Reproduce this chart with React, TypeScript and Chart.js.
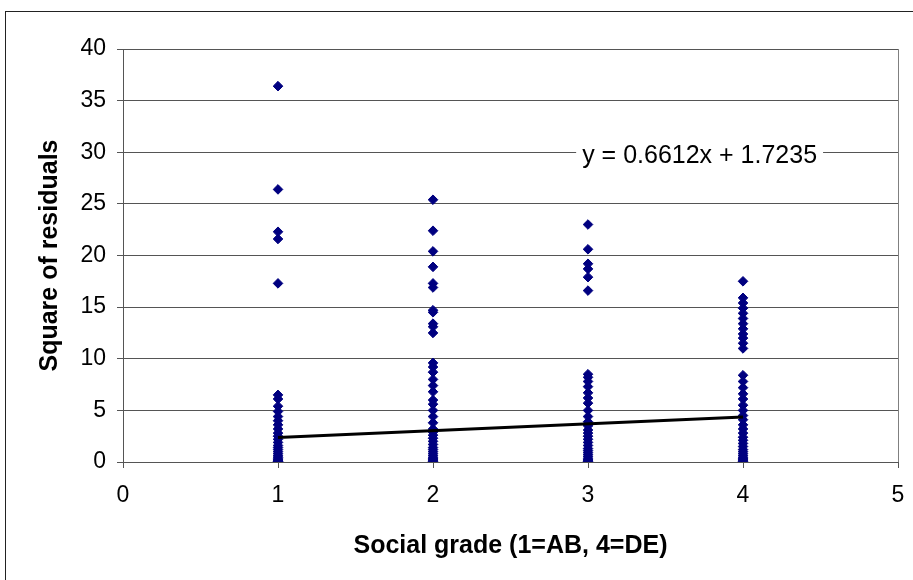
import React, { useEffect, useRef } from 'react';
import { Chart, registerables } from 'chart.js';

Chart.register(...registerables);

// Social grade categories (x) and squared residuals (y) per grade
const gradeCategories = [1, 2, 3, 4];
const grade1Values = [36.4, 26.4, 22.3, 21.6, 17.3, 6.5, 6.1, 5.4, 4.9, 4.4, 4.0, 3.6, 3.2, 2.8, 2.5, 2.2, 1.9, 1.6, 1.4, 1.2, 1.0, 0.8, 0.6, 0.45, 0.3, 0.2, 0.1, 0.05, 0.02];
const grade2Values = [25.4, 22.4, 20.4, 18.9, 17.3, 16.9, 14.7, 14.5, 13.4, 13.1, 12.5, 9.6, 9.2, 8.7, 8.0, 7.4, 6.8, 6.0, 5.6, 5.0, 4.4, 3.8, 3.2, 2.9, 2.6, 2.3, 2.0, 1.7, 1.4, 1.2, 1.0, 0.8, 0.6, 0.4, 0.3, 0.2, 0.1, 0.03];
const grade3Values = [23.0, 20.6, 19.2, 18.7, 17.9, 16.6, 8.5, 8.2, 7.8, 7.3, 6.7, 6.2, 5.7, 5.0, 4.4, 3.9, 3.5, 3.1, 2.8, 2.5, 2.2, 1.9, 1.6, 1.3, 1.1, 0.9, 0.7, 0.5, 0.3, 0.2, 0.1, 0.03];
const grade4Values = [17.5, 15.9, 15.4, 14.9, 14.4, 13.9, 13.4, 12.9, 12.4, 12.0, 11.5, 11.0, 8.4, 7.8, 7.2, 6.6, 6.1, 5.5, 5.0, 4.5, 4.1, 3.6, 3.2, 2.8, 2.4, 2.1, 1.8, 1.5, 1.2, 1.0, 0.8, 0.6, 0.4, 0.3, 0.2, 0.1, 0.03];

// Linear trendline reported on the chart
const trendSlope = 0.6612;
const trendIntercept = 1.7235;
const trendRange = [1, 4];

// Axis settings
const xMin = 0;
const xMax = 5;
const xStep = 1;
const yMin = 0;
const yMax = 40;
const yStep = 5;

const xTitle = 'Social grade (1=AB, 4=DE)';
const yTitle = 'Square of residuals';

const FONT = '"Liberation Sans", Arial, sans-serif';

export default function App() {
  const ref = useRef<HTMLCanvasElement>(null);

  useEffect(() => {
    document.body.style.margin = '0';
    const canvas = ref.current;
    if (!canvas) return;

    const groups = [grade1Values, grade2Values, grade3Values, grade4Values];
    const points: { x: number; y: number }[] = [];
    groups.forEach((vals, i) => {
      vals.forEach((v) => points.push({ x: gradeCategories[i], y: v }));
    });

    const trendPoints = trendRange.map((x) => ({ x, y: trendSlope * x + trendIntercept }));
    const equation = `y = ${trendSlope.toFixed(4)}x + ${trendIntercept.toFixed(4)}`;

    const framePlugin = {
      id: 'frame',
      beforeDraw(chart: any) {
        const ctx = chart.ctx;
        ctx.save();
        ctx.fillStyle = '#ffffff';
        ctx.fillRect(0, 0, chart.width, chart.height);
        ctx.strokeStyle = '#222';
        ctx.lineWidth = 1;
        ctx.strokeRect(5.5, 11.5, chart.width + 20, chart.height + 20);
        ctx.restore();
      },
      beforeDatasetsDraw(chart: any) {
        const { ctx, chartArea: a } = chart;
        ctx.save();
        ctx.strokeStyle = '#808080';
        ctx.lineWidth = 1;
        ctx.beginPath();
        ctx.moveTo(Math.round(a.right) + 0.5, a.top);
        ctx.lineTo(Math.round(a.right) + 0.5, a.bottom);
        ctx.stroke();
        ctx.restore();
      },
      afterDraw(chart: any) {
        const { ctx } = chart;
        const xs = chart.scales.x;
        const ys = chart.scales.y;
        const cx = xs.getPixelForValue(3.72);
        const cy = ys.getPixelForValue(29.7);
        ctx.save();
        ctx.font = `25px ${FONT}`;
        const w = ctx.measureText(equation).width;
        ctx.fillStyle = '#ffffff';
        ctx.fillRect(cx - w / 2 - 6, cy - 14, w + 12, 28);
        ctx.fillStyle = '#000000';
        ctx.textAlign = 'center';
        ctx.textBaseline = 'middle';
        ctx.fillText(equation, cx, cy + 1);
        ctx.restore();
      },
    };

    const chart = new Chart(canvas, {
      type: 'scatter',
      data: {
        datasets: [
          {
            type: 'line',
            data: trendPoints,
            borderColor: '#000000',
            borderWidth: 3,
            pointRadius: 0,
            fill: false,
            showLine: true,
          } as any,
          {
            data: points,
            pointStyle: 'rectRot',
            pointRadius: 4.8,
            backgroundColor: '#000080',
            borderColor: '#000080',
            borderWidth: 1,
          },
        ],
      },
      options: {
        animation: false,
        responsive: false,
        maintainAspectRatio: false,
        layout: { padding: { left: 0, top: 49, right: 15, bottom: 0 } },
        plugins: {
          legend: { display: false },
          tooltip: { enabled: false },
        },
        scales: {
          x: {
            type: 'linear',
            min: xMin,
            max: xMax,
            afterFit(scale: any) {
              scale.height = 118;
              scale.paddingRight = 0;
              scale.paddingLeft = 0;
            },
            ticks: {
              stepSize: xStep,
              color: '#000',
              font: { family: FONT, size: 23 },
              padding: 14,
              maxRotation: 0,
            },
            grid: {
              drawOnChartArea: false,
              drawTicks: true,
              tickLength: 6,
              color: '#555',
            },
            border: { color: '#555', width: 1 },
            title: {
              display: true,
              text: xTitle,
              color: '#000',
              font: { family: FONT, size: 25, weight: 'bold' },
              padding: { top: 0, bottom: 19 },
            },
          },
          y: {
            type: 'linear',
            min: yMin,
            max: yMax,
            afterFit(scale: any) {
              scale.width = 123;
              scale.paddingTop = 0;
              scale.paddingBottom = 0;
            },
            ticks: {
              stepSize: yStep,
              color: '#000',
              font: { family: FONT, size: 23 },
              padding: 11,
            },
            grid: {
              color: '#555',
              tickLength: 6,
              drawTicks: true,
            },
            border: { color: '#555', width: 1 },
            title: {
              display: true,
              text: yTitle,
              color: '#000',
              font: { family: FONT, size: 25, weight: 'bold' },
              padding: { top: 35, bottom: 0 },
            },
          },
        },
      },
      plugins: [framePlugin],
    });

    return () => chart.destroy();
  }, []);

  return (
    <div style={{ position: 'absolute', left: 0, top: 0, width: 913, height: 580 }}>
      <canvas ref={ref} width={913} height={580} style={{ width: 913, height: 580, display: 'block' }} />
    </div>
  );
}
